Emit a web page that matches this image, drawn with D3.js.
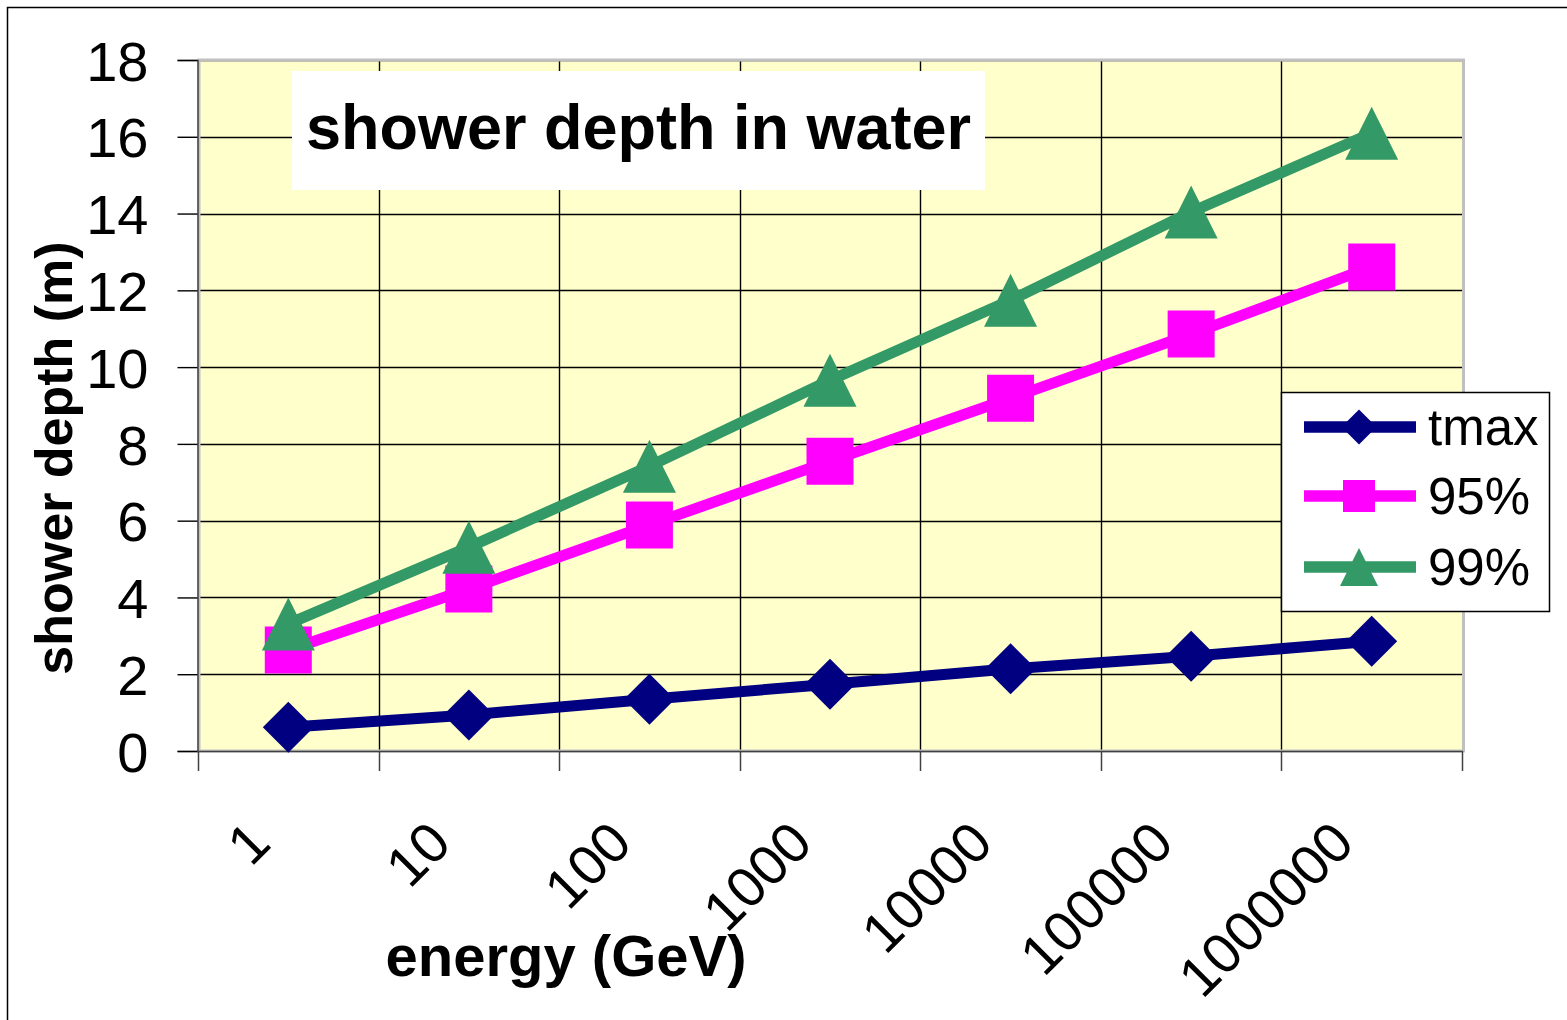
<!DOCTYPE html>
<html>
<head>
<meta charset="utf-8">
<script src="https://cdn.jsdelivr.net/npm/d3@7"></script>
<style>
  html, body { margin: 0; padding: 0; background: #fff; }
  svg { display: block; font-family: "Liberation Sans", Arial, sans-serif; }
</style>
</head>
<body>
<svg id="chart" width="1567" height="1020"></svg>
<script>
// Energy categories (GeV) and shower depths (m)
const categories = ["1", "10", "100", "1000", "10000", "100000", "1000000"];
const tmax = [0.62, 0.94, 1.35, 1.74, 2.14, 2.47, 2.86];
const depth95 = [2.63, 4.22, 5.89, 7.55, 9.19, 10.86, 12.61];
const depth99 = [3.31, 5.31, 7.42, 9.66, 11.74, 14.04, 16.09];
const yTicks = [0, 2, 4, 6, 8, 10, 12, 14, 16, 18];
const seriesNames = ["tmax", "95%", "99%"];

const series = [
  { name: seriesNames[0], values: tmax, color: "#000080", marker: "diamond" },
  { name: seriesNames[1], values: depth95, color: "#FF00FF", marker: "square" },
  { name: seriesNames[2], values: depth99, color: "#339966", marker: "triangle" }
];

const svg = d3.select("#chart");
const plot = { left: 198, right: 1462, top: 60, bottom: 751 };

const x = d3.scaleBand().domain(categories).range([plot.left, plot.right]).paddingInner(0).paddingOuter(0);
const xc = c => x(c) + x.bandwidth() / 2;
const y = d3.scaleLinear().domain([0, 18]).range([plot.bottom, plot.top]);

// chart area frame
svg.append("rect").attr("x", 7.5).attr("y", 7.5).attr("width", 1600).attr("height", 1100)
  .attr("fill", "#fff").attr("stroke", "#000").attr("stroke-width", 1.5);

// plot area
svg.append("rect").attr("x", plot.left).attr("y", plot.top)
  .attr("width", plot.right - plot.left).attr("height", plot.bottom - plot.top)
  .attr("fill", "#FFFFCC");

// horizontal gridlines
svg.append("g").selectAll("line").data(yTicks.filter(t => t > 0)).join("line")
  .attr("x1", plot.left).attr("x2", plot.right)
  .attr("y1", d => Math.round(y(d)) + 0.5).attr("y2", d => Math.round(y(d)) + 0.5)
  .attr("stroke", "#000").attr("stroke-width", 1.4);

// vertical gridlines at category boundaries
const boundaries = categories.map(c => x(c)).concat([plot.right]);
svg.append("g").selectAll("line").data(boundaries.slice(1, -1)).join("line")
  .attr("x1", d => Math.round(d) + 0.5).attr("x2", d => Math.round(d) + 0.5)
  .attr("y1", plot.top).attr("y2", plot.bottom)
  .attr("stroke", "#000").attr("stroke-width", 1.4);

// plot area border
svg.append("rect").attr("x", plot.left + 1).attr("y", plot.top)
  .attr("width", plot.right - plot.left + 0.5).attr("height", plot.bottom - plot.top)
  .attr("fill", "none").attr("stroke", "#c0c0c0").attr("stroke-width", 3);

// y axis
const yAxis = d3.axisLeft(y).tickValues(yTicks).tickSize(20).tickPadding(29).tickFormat(d3.format("d"));
const gy = svg.append("g").attr("transform", `translate(${plot.left - 0.5},0)`).call(yAxis);
gy.select(".domain").attr("stroke", "#404040").attr("stroke-width", 1.5);
gy.selectAll(".tick line").attr("stroke", "#000").attr("stroke-width", 1.4);
gy.selectAll(".tick text").attr("font-size", 56).attr("fill", "#000")
  .attr("font-family", "Liberation Sans, Arial, sans-serif")
  .attr("dy", "0.36em");

// x axis: ticks at category boundaries
const gx = svg.append("g");
gx.append("line").attr("x1", plot.left - 1).attr("x2", plot.right + 1)
  .attr("y1", plot.bottom + 0.5).attr("y2", plot.bottom + 0.5)
  .attr("stroke", "#404040").attr("stroke-width", 1.5);
gx.selectAll("line.tick").data(boundaries).join("line").attr("class", "tick")
  .attr("x1", d => Math.round(d) + 0.5).attr("x2", d => Math.round(d) + 0.5)
  .attr("y1", plot.bottom).attr("y2", plot.bottom + 20)
  .attr("stroke", "#404040").attr("stroke-width", 1.5);
gx.selectAll("text").data(categories).join("text")
  .attr("transform", d => `translate(${xc(d) - 29},832) rotate(-45)`)
  .attr("text-anchor", "end").attr("dominant-baseline", "central")
  .attr("font-size", 56).attr("fill", "#000")
  .text(d => d);

// title box
svg.append("rect").attr("x", 292).attr("y", 71).attr("width", 693).attr("height", 119).attr("fill", "#fff");
svg.append("text").attr("x", 638.5).attr("y", 149).attr("text-anchor", "middle")
  .attr("font-size", 63).attr("font-weight", "bold").attr("fill", "#000")
  .text("shower depth in water");

// axis titles
svg.append("text").attr("x", 566).attr("y", 976).attr("text-anchor", "middle")
  .attr("font-size", 58).attr("font-weight", "bold").attr("fill", "#000")
  .text("energy (GeV)");
svg.append("text").attr("transform", "translate(72,458) rotate(-90)").attr("text-anchor", "middle")
  .attr("font-size", 52).attr("font-weight", "bold").attr("fill", "#000")
  .text("shower depth (m)");

// marker shapes
function markerPath(type, cx, cy, s) {
  if (type === "diamond") return `M${cx},${cy - s}L${cx + s},${cy}L${cx},${cy + s}L${cx - s},${cy}Z`;
  if (type === "square") return `M${cx - s},${cy - s}H${cx + s}V${cy + s}H${cx - s}Z`;
  return `M${cx},${cy - s}L${cx + s},${cy + s}L${cx - s},${cy + s}Z`;
}
const plotMarkerSize = { diamond: 25.5, square: 23.5, triangle: 26.5 };
const legendMarkerSize = { diamond: 17.5, square: 16, triangle: 19 };

const line = d3.line().x((d, i) => xc(categories[i])).y(d => y(d));

const gs = svg.append("g");
series.forEach(s => {
  gs.append("path").attr("d", line(s.values)).attr("fill", "none")
    .attr("stroke", s.color).attr("stroke-width", 11).attr("stroke-linejoin", "round");
});
series.forEach(s => {
  gs.append("g").selectAll("path").data(s.values).join("path")
    .attr("d", (d, i) => markerPath(s.marker, xc(categories[i]), y(d), plotMarkerSize[s.marker]))
    .attr("fill", s.color);
});

// legend
const lg = svg.append("g");
lg.append("rect").attr("x", 1281.5).attr("y", 392.5).attr("width", 268).attr("height", 219)
  .attr("fill", "#fff").attr("stroke", "#000").attr("stroke-width", 1.5);
const legendRows = [427, 496, 567];
series.forEach((s, i) => {
  const ry = legendRows[i];
  lg.append("line").attr("x1", 1304).attr("x2", 1416).attr("y1", ry).attr("y2", ry)
    .attr("stroke", s.color).attr("stroke-width", 11.5);
  lg.append("path").attr("d", markerPath(s.marker, 1359, ry, legendMarkerSize[s.marker])).attr("fill", s.color);
  lg.append("text").attr("x", 1428).attr("y", ry).attr("dy", "0.36em")
    .attr("font-size", 51).attr("fill", "#000").text(s.name);
});
</script>
</body>
</html>
